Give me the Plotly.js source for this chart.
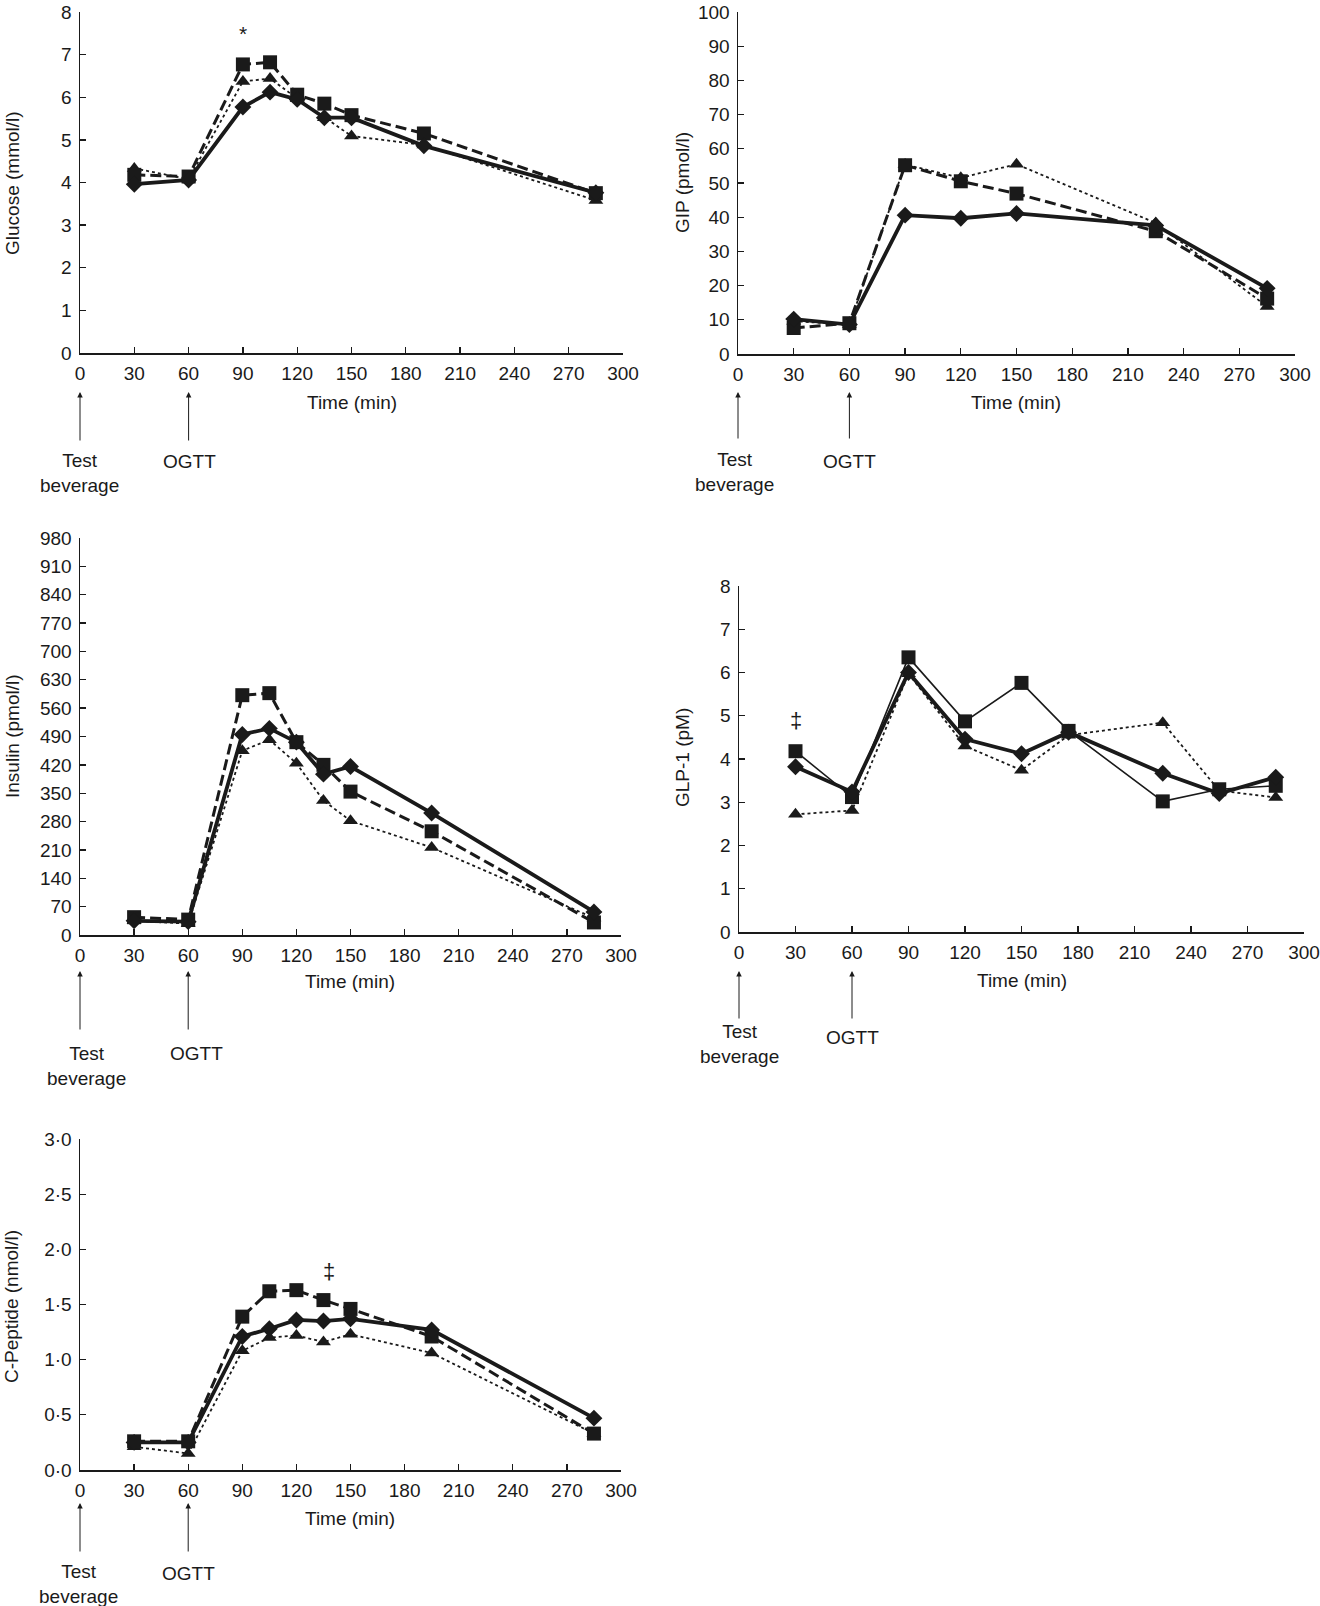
<!DOCTYPE html>
<html>
<head>
<meta charset="utf-8">
<script src="https://cdn.plot.ly/plotly-3.0.1.min.js"></script>
<style>html,body{margin:0;padding:0;background:#fff;}#chart{width:1320px;height:1606px;}</style>
</head>
<body>
<div id="chart"></div>
<script>
// ---------- DATA ----------
const timeTicks = [0,30,60,90,120,150,180,210,240,270,300];

const tGlu = [30,60,90,105,120,135,150,190,285];
const gluDiamond  = [3.96,4.06,5.77,6.12,5.95,5.52,5.52,4.86,3.76];
const gluSquare   = [4.18,4.14,6.77,6.82,6.06,5.85,5.58,5.15,3.75];
const gluTriangle = [4.33,4.08,6.37,6.44,5.97,5.52,5.09,4.88,3.58];

const tGip = [30,60,90,120,150,225,285];
const gipDiamond  = [10.2,8.6,40.6,39.7,41.1,37.6,19.2];
const gipSquare   = [7.6,9.0,55.2,50.5,46.9,35.9,16.2];
const gipTriangle = [9.6,8.6,55.4,51.5,55.5,38.3,13.9];

const tIns = [30,60,90,105,120,135,150,195,285];
const insDiamond  = [35,33,495,510,476,397,416,301,57];
const insSquare   = [44,38,592,597,476,420,354,256,31];
const insTriangle = [35,28,455,482,424,332,282,216,42];

const tGlp = [30,60,90,120,150,175,225,255,285];
const glpDiamond  = [3.82,3.24,6.0,4.46,4.12,4.62,3.67,3.2,3.58];
const glpSquare   = [4.18,3.12,6.35,4.87,5.76,4.65,3.02,3.3,3.38];
const glpTriangle = [2.72,2.81,5.97,4.3,3.74,4.55,4.84,3.27,3.11];

const tCp = [30,60,90,105,120,135,150,195,285];
const cpDiamond  = [0.25,0.25,1.21,1.28,1.36,1.35,1.37,1.27,0.47];
const cpSquare   = [0.26,0.26,1.39,1.62,1.63,1.54,1.46,1.21,0.33];
const cpTriangle = [0.21,0.15,1.08,1.2,1.22,1.16,1.23,1.06,0.33];

const cpTickVals = [0,0.5,1,1.5,2,2.5,3];
const cpTickText = ['0·0','0·5','1·0','1·5','2·0','2·5','3·0'];

const yTitles = ['Glucose (mmol/l)','GIP (pmol/l)','Insulin (pmol/l)','GLP-1 (pM)','C-Peptide (nmol/l)'];
const xTitle = 'Time (min)';

// ---------- LAYOUT ----------
const W = 1320, H = 1606;
const px = v => v / W;
const py = v => 1 - v / H;
const INK = '#1a1a1a';
const FONT = {family:'Liberation Sans, Arial, Helvetica, sans-serif', size:19, color:INK};

// panel pixel boxes: [left, right, top, bottom]
const panels = [
  {box:[80,623,12,353],   yr:[0,8],   dtick:1},
  {box:[738,1295,12,354], yr:[0,100], dtick:10},
  {box:[80,621,538,935],  yr:[0,980], dtick:70},
  {box:[739,1304,586,932],yr:[0,8],   dtick:1},
  {box:[80,621,1139,1470],yr:[0,3],   dtick:0.5}
];

const layout = {
  width:W, height:H, margin:{l:0,r:0,t:0,b:0},
  paper_bgcolor:'#fff', plot_bgcolor:'#fff',
  showlegend:false, font:FONT, annotations:[]
};

panels.forEach((p,i)=>{
  const n = i===0 ? '' : String(i+1);
  const [l,r,t,b] = p.box;
  const common = {showgrid:false, zeroline:false, showline:true, linecolor:INK, linewidth:1.5,
    ticks:'inside', ticklen:6, tickwidth:1.3, tickcolor:INK, tickfont:FONT, fixedrange:true};
  layout['xaxis'+n] = Object.assign({}, common, {domain:[px(l),px(r)], range:[0,300],
    tickvals:timeTicks, anchor:'y'+n, ticklabelstandoff:3});
  const ya = Object.assign({}, common, {domain:[py(b),py(t)], range:p.yr, anchor:'x'+n, ticklabelstandoff:3});
  if (i===4){ ya.tickvals = cpTickVals; ya.ticktext = cpTickText; }
  else { ya.tick0 = 0; ya.dtick = p.dtick; }
  layout['yaxis'+n] = ya;
});

// ---------- TRACES ----------
function trio(x, dia, sq, tri, xa, ya, squareSolid){
  const base = {x:x, type:'scatter', mode:'lines+markers', xaxis:xa, yaxis:ya, cliponaxis:false, hoverinfo:'skip'};
  return [
    Object.assign({}, base, {y:tri, line:{color:INK, width:1.8, dash:'3px,3px'},
      marker:{symbol:'triangle-up', size:13, color:INK}}),
    Object.assign({}, base, {y:sq, line: squareSolid ? {color:INK, width:1.6} : {color:INK, width:3, dash:'11px,5px'},
      marker:{symbol:'square', size:14, color:INK}}),
    Object.assign({}, base, {y:dia, line:{color:INK, width:3.8},
      marker:{symbol:'diamond', size:13, color:INK}})
  ];
}
const data = [].concat(
  trio(tGlu, gluDiamond, gluSquare, gluTriangle, 'x','y', false),
  trio(tGip, gipDiamond, gipSquare, gipTriangle, 'x2','y2', false),
  trio(tIns, insDiamond, insSquare, insTriangle, 'x3','y3', false),
  trio(tGlp, glpDiamond, glpSquare, glpTriangle, 'x4','y4', true),
  trio(tCp, cpDiamond, cpSquare, cpTriangle, 'x5','y5', false)
);

// ---------- ANNOTATIONS ----------
const A = layout.annotations;
// y titles [x center, y center]
const yTitlePos = [[12,183],[682,183],[12,736],[682,758],[11,1307]];
yTitlePos.forEach((pos,i)=>{
  A.push({xref:'paper', yref:'paper', x:px(pos[0]), y:py(pos[1]), text:yTitles[i], textangle:-90,
    showarrow:false, xanchor:'center', yanchor:'middle', font:FONT});
});
// x titles
const xTitlePos = [[352,402],[1016,402],[350,981],[1022,980],[350,1518]];
xTitlePos.forEach(pos=>{
  A.push({xref:'paper', yref:'paper', x:px(pos[0]), y:py(pos[1]), text:xTitle,
    showarrow:false, xanchor:'center', yanchor:'middle', font:FONT});
});
// arrows + labels: [xaxis, tipY, tailY, testX, testY, ogttX, ogttY]
const arrows = [
  ['x', 392,442, 79,462, 189,461],
  ['x2',392,440, 735,461, 849,461],
  ['x3',971,1031, 86,1055, 196,1053],
  ['x4',971,1020, 740,1033, 852,1037],
  ['x5',1503,1553, 78,1573, 188,1573]
];
arrows.forEach(a=>{
  const [xa, tip, tail, tx, ty, ox, oy] = a;
  [0,60].forEach(t=>{
    A.push({xref:xa, yref:'paper', x:t, y:py(tip), ax:0, ay:tail-tip, text:'', showarrow:true,
      arrowhead:2, arrowsize:1.1, arrowwidth:1, arrowcolor:INK, standoff:0, startstandoff:0});
  });
  // two-line label, box centred half a line below the 'Test' line
  A.push({xref:'paper', yref:'paper', x:px(tx), y:py(ty + 11), text:'Test<br>beverage', showarrow:false,
    xanchor:'center', yanchor:'middle', font:FONT, align:'center'});
  A.push({xref:'paper', yref:'paper', x:px(ox), y:py(oy), text:'OGTT', showarrow:false,
    xanchor:'center', yanchor:'middle', font:FONT});
});
// significance markers
A.push({xref:'x', yref:'y', x:90, y:7.5, text:'*', showarrow:false, font:Object.assign({},FONT,{size:21})});
A.push({xref:'x4', yref:'y4', x:30, y:4.9, text:'‡', showarrow:false, font:Object.assign({},FONT,{size:22})});
A.push({xref:'x5', yref:'y5', x:138, y:1.8, text:'‡', showarrow:false, font:Object.assign({},FONT,{size:22})});

Plotly.newPlot('chart', data, layout, {staticPlot:true, displayModeBar:false});
</script>
</body>
</html>
